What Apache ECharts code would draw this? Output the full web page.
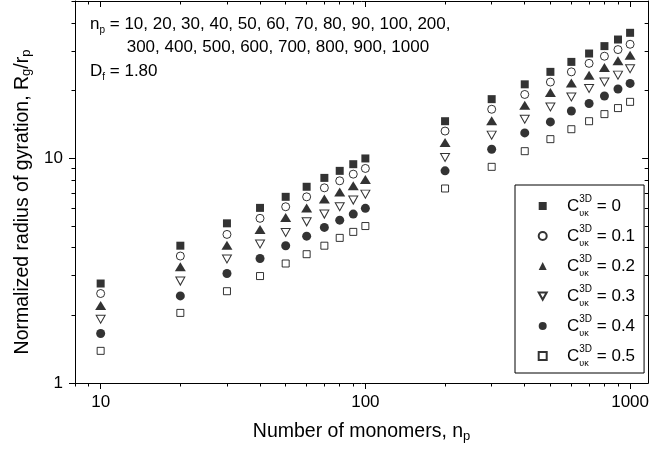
<!DOCTYPE html>
<html>
<head>
<meta charset="utf-8">
<script src="https://cdn.jsdelivr.net/npm/echarts@6/dist/echarts.min.js"></script>
<style>
html,body{margin:0;padding:0;background:#fff;}
#chart{width:652px;height:455px;}
</style>
</head>
<body>
<div id="chart"></div>
<script>
// ---- data ----
const monomers = [10,20,30,40,50,60,70,80,90,100,200,300,400,500,600,700,800,900,1000];
const cuk00 = [2.77,4.08,5.13,6.01,6.73,7.46,8.17,8.78,9.40,9.97,14.6,18.3,21.3,24.2,26.8,29.2,31.5,33.7,36.1];
const cuk01 = [2.50,3.67,4.58,5.40,6.08,6.73,7.38,7.93,8.49,9.00,13.2,16.5,19.2,21.8,24.2,26.4,28.4,30.4,32.1];
const cuk02 = [2.21,3.29,4.10,4.82,5.45,6.01,6.58,7.08,7.53,8.04,11.75,14.65,17.2,19.6,21.6,23.4,25.3,27.1,28.7];
const cuk03 = [1.92,2.84,3.56,4.15,4.67,5.21,5.64,6.08,6.51,6.92,10.07,12.66,14.9,16.9,18.7,20.4,21.8,23.4,25.0];
const cuk04 = [1.66,2.44,3.07,3.58,4.08,4.50,4.92,5.30,5.64,5.98,8.78,10.96,12.95,14.5,16.2,17.5,18.9,20.3,21.5];
const cuk05 = [1.39,2.05,2.56,2.99,3.40,3.74,4.08,4.42,4.70,4.99,7.33,9.15,10.74,12.15,13.45,14.6,15.7,16.7,17.8];
const seriesNames = ['0','0.1','0.2','0.3','0.4','0.5'];
const xMajorTicks = [10,100,1000];
const xMinorTicks = [8,9,20,30,40,50,60,70,80,90,200,300,400,500,600,700,800,900];
const yMajorTicks = [1,10];
const yMinorTicks = [2,3,4,5,6,7,8,9,20,30,40,50];

const FONT = 'Liberation Sans, Arial, Helvetica, sans-serif';
const XMIN = 8, XMAX = 1170, YMIN = 1, YMAX = 50;

function pairs(ys){ return monomers.map((x,i)=>[x, ys[i]]); }

const DOWN_TRI = 'path://M0,0L10,0L5,9Z';
const styles = [
  {symbol:'rect', symbolSize:8, itemStyle:{color:'#000'}},
  {symbol:'circle', symbolSize:8, itemStyle:{color:'#fff', borderColor:'#000', borderWidth:1}},
  {symbol:'triangle', symbolSize:[11,9], itemStyle:{color:'#000'}},
  {symbol:DOWN_TRI, symbolSize:[9,8], symbolKeepAspect:false, itemStyle:{color:'#fff', borderColor:'#000', borderWidth:1}},
  {symbol:'circle', symbolSize:9, itemStyle:{color:'#000'}},
  {symbol:'rect', symbolSize:7, itemStyle:{color:'#fff', borderColor:'#000', borderWidth:1}}
];
const allData = [cuk00,cuk01,cuk02,cuk03,cuk04,cuk05];

const series = allData.map((d,i)=>Object.assign({
  type:'scatter', name: seriesNames[i], data: pairs(d),
  xAxisIndex:0, yAxisIndex:0, silent:true, animation:false
}, styles[i]));

function axisBase(pos, min, max){
  return {type:'log', logBase:10, position:pos, min:min, max:max, gridIndex:0,
    splitLine:{show:false}, axisPointer:{show:false}};
}
function majorAxis(pos, min, max, ticks, showLabel, inside){
  const a = axisBase(pos, min, max);
  a.axisLine = {show:true, onZero:false, lineStyle:{color:'#000', width:1}};
  a.axisTick = {show:true, inside:inside, length:6, customValues:ticks, lineStyle:{color:'#000', width:1}};
  a.axisLabel = {show:showLabel, customValues:ticks, color:'#000', fontSize:17, fontFamily:FONT,
    margin:11, formatter:(v)=>String(Math.round(v))};
  return a;
}
function minorAxis(pos, min, max, ticks, inside){
  const a = axisBase(pos, min, max);
  a.axisLine = {show:false, onZero:false};
  a.axisTick = {show:true, inside:inside, length:3.5, customValues:ticks, lineStyle:{color:'#000', width:1}};
  a.axisLabel = {show:false};
  return a;
}

const xMain = majorAxis('bottom', XMIN, XMAX, xMajorTicks, true, false);
xMain.name = 'Number of monomers, n{sub|p}';
xMain.nameLocation = 'middle';
xMain.nameGap = 38;
xMain.nameTextStyle = {fontSize:19.5, fontFamily:FONT, color:'#000', lineHeight:22,
  rich:{sub:{fontSize:13, fontFamily:FONT, color:'#000', lineHeight:7, verticalAlign:'bottom'}}};

const yMain = majorAxis('left', YMIN, YMAX, yMajorTicks, true, false);
yMain.axisLabel.margin = 12;
yMain.name = 'Normalized radius of gyration, R{sub|g}/r{sub|p}';
yMain.nameLocation = 'middle';
yMain.nameGap = 40;
yMain.nameTextStyle = {fontSize:19.5, fontFamily:FONT, color:'#000', lineHeight:22, padding:[0,20,0,0],
  rich:{sub:{fontSize:13, fontFamily:FONT, color:'#000', lineHeight:7, verticalAlign:'bottom'}}};

const option = {
  animation:false,
  backgroundColor:'#fff',
  grid:{left:75, right:1, top:1, bottom:72, containLabel:false},
  xAxis:[
    xMain,
    minorAxis('bottom', XMIN, XMAX, xMinorTicks, false),
    majorAxis('top', XMIN, XMAX, xMajorTicks, false, true),
    minorAxis('top', XMIN, XMAX, xMinorTicks, true)
  ],
  yAxis:[
    yMain,
    minorAxis('left', YMIN, YMAX, yMinorTicks, false),
    majorAxis('right', YMIN, YMAX, yMajorTicks, false, true),
    minorAxis('right', YMIN, YMAX, yMinorTicks, true)
  ],
  legend:{
    orient:'vertical', left:515, top:185,
    padding:[9,9,5,22.7],
    itemWidth:8, itemHeight:8, itemGap:6,
    borderColor:'#000', borderWidth:1, backgroundColor:'#fff',
    selectedMode:false,
    data:seriesNames,
    formatter:(n)=>'{c|C}{sub|υκ}{sup|3D}{m| = '+n+'}',
    textStyle:{fontSize:17, fontFamily:FONT, color:'#000', lineHeight:24,
      rich:{
        c:{fontSize:17, fontFamily:FONT, color:'#000', lineHeight:24, padding:[0,0,0,15.3]},
        m:{fontSize:17, fontFamily:FONT, color:'#000', lineHeight:24},
        sup:{fontSize:10, fontFamily:FONT, color:'#000', lineHeight:10, verticalAlign:'top'},
        sub:{fontSize:9, fontFamily:FONT, color:'#000', lineHeight:7, verticalAlign:'bottom', width:0}
      }}
  },
  graphic:[
    {type:'text', left:90, top:16, silent:true, style:{
      text:'{m|n}{s|p}{m| = 10, 20, 30, 40, 50, 60, 70, 80, 90, 100, 200,}',
      rich:{m:{fontSize:17, fontFamily:FONT, fill:'#000', lineHeight:22},
            s:{fontSize:10, fontFamily:FONT, fill:'#000', lineHeight:8, verticalAlign:'bottom'}}}},
    {type:'text', left:126.7, top:39, silent:true, style:{
      text:'300, 400, 500, 600, 700, 800, 900, 1000',
      font:'17px '+FONT, fill:'#000'}},
    {type:'text', left:90, top:63, silent:true, style:{
      text:'{m|D}{s|f}{m| = 1.80}',
      rich:{m:{fontSize:17, fontFamily:FONT, fill:'#000', lineHeight:22},
            s:{fontSize:10, fontFamily:FONT, fill:'#000', lineHeight:8, verticalAlign:'bottom'}}}}
  ],
  series:series
};

const chart = echarts.init(document.getElementById('chart'), null, {renderer:'canvas'});
chart.setOption(option);
</script>
</body>
</html>
